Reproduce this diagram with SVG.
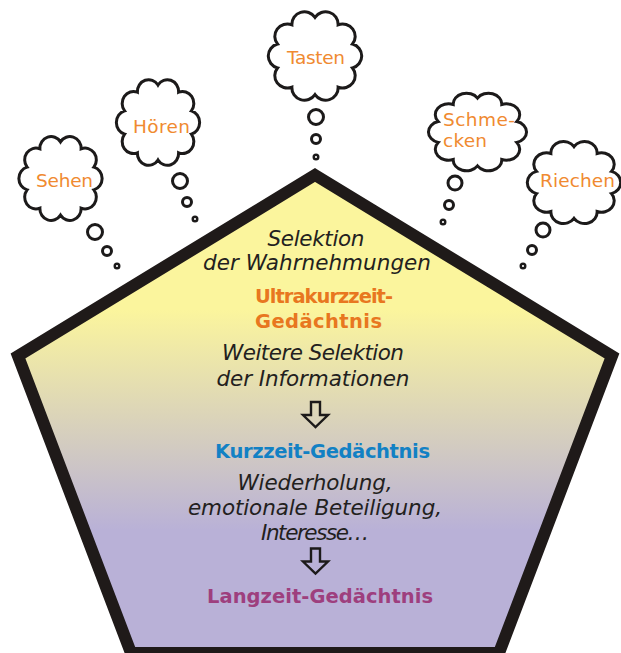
<svg xmlns="http://www.w3.org/2000/svg" xmlns:xlink="http://www.w3.org/1999/xlink" width="621" height="653" viewBox="0 0 621 653">
<style>
.cl{fill:#fff;stroke:#1c1a1a;stroke-width:3;vector-effect:non-scaling-stroke}
.bub{fill:#fff;stroke:#1c1a1a;stroke-width:3}
.bubs{fill:#fff;stroke:#1c1a1a;stroke-width:2.4}
.ct{font-family:"DejaVu Sans","Liberation Sans",sans-serif;font-size:18.5px;fill:#f08a30}
.it{font-family:"DejaVu Sans","Liberation Sans",sans-serif;font-style:italic;font-size:21.5px;fill:#231f20;text-anchor:middle}
.bd{font-family:"DejaVu Sans","Liberation Sans",sans-serif;font-weight:bold;font-size:19.5px}
.arr{fill:none;stroke:#1c1a1a;stroke-width:2.4;stroke-linejoin:miter}
</style>
<defs>
<linearGradient id="g" gradientUnits="userSpaceOnUse" x1="0" y1="310" x2="0" y2="530">
<stop offset="0" stop-color="#fbf59d"/>
<stop offset="1" stop-color="#b9b1d7"/>
</linearGradient>
<path id="cloud" class="cl" d="M0,-39 A12.5,12.5 0 0 1 22.92,-31.55 A12.5,12.5 0 0 1 37.09,-12.05 A12.5,12.5 0 0 1 37.09,12.05 A12.5,12.5 0 0 1 22.92,31.55 A12.5,12.5 0 0 1 0,39 A12.5,12.5 0 0 1 -22.92,31.55 A12.5,12.5 0 0 1 -37.09,12.05 A12.5,12.5 0 0 1 -37.09,-12.05 A12.5,12.5 0 0 1 -22.92,-31.55 A12.5,12.5 0 0 1 0,-39 Z"/>
</defs>
<rect width="621" height="653" fill="#fff"/>

<g id="gedaechtnis">
<polygon points="315,175 612,356 499,653 131,653 18,356" fill="url(#g)" stroke="#1f1a19" stroke-width="12" stroke-linejoin="miter"/>
<text class="it" x="316" y="246" textLength="97">Selektion</text>
<text class="it" x="317" y="270" textLength="228">der Wahrnehmungen</text>
<text class="bd" x="255" y="303" fill="#e8771f" font-size="18" textLength="138">Ultrakurzzeit-</text>
<text class="bd" x="255" y="328" fill="#e8771f" font-size="18" textLength="127">Gedächtnis</text>
<text class="it" x="313" y="360" textLength="182">Weitere Selektion</text>
<text class="it" x="313" y="386" textLength="193">der Informationen</text>
<text class="bd" x="215" y="458" fill="#1281c4" textLength="215">Kurzzeit-Gedächtnis</text>
<text class="it" x="315" y="490" textLength="155">Wiederholung,</text>
<text class="it" x="315" y="515" textLength="254">emotionale Beteiligung,</text>
<text class="it" x="315" y="540" textLength="108">Interesse…</text>
<text class="bd" x="207" y="603" fill="#9e3f7e" textLength="226">Langzeit-Gedächtnis</text>
</g>

<g id="sehen">
<use xlink:href="#cloud" href="#cloud" transform="translate(60.5,178.5) scale(0.9,0.94)"/>
<text class="ct" x="36" y="187" textLength="57">Sehen</text>
<circle class="bub" cx="95" cy="232" r="7.5"/>
<circle class="bub" cx="107" cy="251" r="4.5"/>
<circle class="bubs" cx="117" cy="266" r="2.3"/>
</g>

<g id="hoeren">
<use xlink:href="#cloud" href="#cloud" transform="translate(158,122.5) scale(0.9,0.96)"/>
<text class="ct" x="133" y="133" textLength="57">Hören</text>
<circle class="bub" cx="180" cy="181" r="7.5"/>
<circle class="bub" cx="187" cy="202" r="4.5"/>
<circle class="bubs" cx="195" cy="219" r="2.3"/>
</g>

<g id="tasten">
<use xlink:href="#cloud" href="#cloud" transform="translate(315,56) scale(1.01,0.99)"/>
<text class="ct" x="287" y="64" textLength="58">Tasten</text>
<circle class="bub" cx="316" cy="117" r="7.5"/>
<circle class="bub" cx="316" cy="139" r="4.5"/>
<circle class="bubs" cx="316" cy="157" r="2.3"/>
</g>

<g id="schmecken">
<use xlink:href="#cloud" href="#cloud" transform="translate(477.5,132) scale(1.06,0.87)"/>
<text class="ct" x="443" y="126" textLength="72">Schme-</text>
<text class="ct" x="443" y="147" textLength="44">cken</text>
<circle class="bub" cx="455" cy="183" r="7"/>
<circle class="bub" cx="449" cy="205" r="4.5"/>
<circle class="bubs" cx="443" cy="222" r="2.3"/>
</g>

<g id="riechen">
<use xlink:href="#cloud" href="#cloud" transform="translate(574,182.5) scale(1.01,0.92)"/>
<text class="ct" x="540" y="187" textLength="75">Riechen</text>
<circle class="bub" cx="543" cy="230" r="7"/>
<circle class="bub" cx="532" cy="250" r="4.5"/>
<circle class="bubs" cx="523" cy="266" r="2.3"/>
</g>

<g id="connectors">
<path class="arr" d="M311,402 H320 V415 H328 L315.5,427 L303,415 H311 Z"/>
<path class="arr" d="M311,548.5 H320 V561.5 H328 L315.5,573.5 L303,561.5 H311 Z"/>
</g>
</svg>
